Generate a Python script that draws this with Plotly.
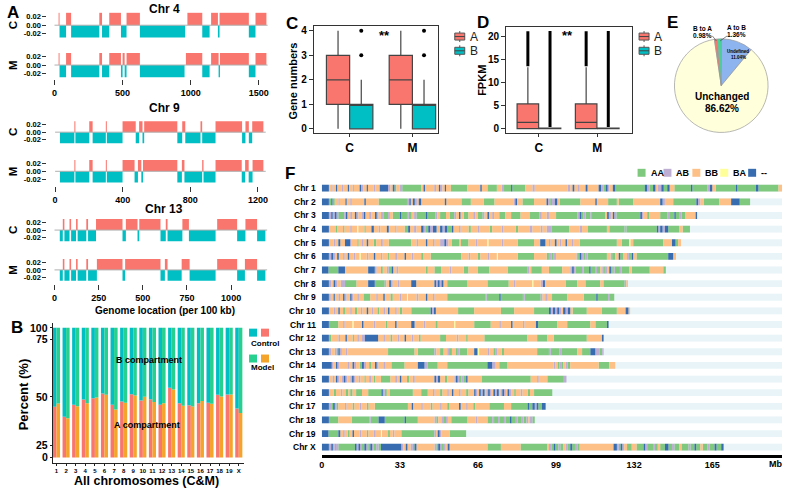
import plotly.graph_objects as go

W, H = 789, 490
FONT = "Liberation Sans"
RED, TEAL = "#F8766D", "#00BFC4"
ORANGE, GREEN = "#F4A42A", "#27D08E"

# ---------------- Panel A : compartment tracks (run-length: code + end bin) ----------------
A_chroms = ["Chr 4", "Chr 9", "Chr 13"]
A_nbins = [1565, 1246, 1204]
A_xticks = [[0, 500, 1000, 1500], [0, 400, 800, 1200], [0, 250, 500, 750, 1000]]
A_yticks = [-0.02, 0.0, 0.02]
A_yticktext = ["-0.02", "0.00", "0.02"]
A_amp = 0.029
chr4_C = "G30 R37 T85 R122 T329 R349 T402 R488 T529 R627 T959 G976 R1085 T1139 G1150 R1200 T1212 R1427 T1476 R1556 G1565"
chr4_M = "G30 R37 T85 R122 T329 R349 T402 R488 T500 R515 T529 R627 T955 G965 R1085 T1139 G1150 R1205 T1215 R1427 T1476 R1556 G1565"
chr9_C = "G29 T114 R120 T202 R222 T300 R306 T399 R477 T497 R517 T527 R723 T752 R770 T860 R870 T949 R1106 T1126 R1146 T1166 R1232 G1246"
chr9_M = "G29 T114 R120 T202 R222 T300 R306 T399 R470 T490 R510 T520 R723 T750 R765 T870 R878 T949 R1104 T1124 R1145 T1168 R1232 G1246"
chr13_C = "G30 T47 R56 T85 R94 T122 R131 T180 R190 T235 R385 T404 R470 T480 R600 T630 R640 T724 R761 T912 G921 R1034 T1081 R1147 T1194 G1204"
chr13_M = "G30 T47 R56 T85 R94 T122 R131 T180 R190 T240 R385 T400 R600 T625 R640 T720 R765 T912 G921 R1034 T1078 R1147 T1194 G1204"
A_tracks_C = [chr4_C, chr9_C, chr13_C]
A_tracks_M = [chr4_M, chr9_M, chr13_M]

# ---------------- Panel B : A-compartment percent per chromosome ----------------
B_chroms = [str(i) for i in range(1, 20)] + ["X"]
B_A_control = [44.9, 39.7, 45.9, 48.6, 49.3, 51.4, 45.9, 47.6, 51.1, 48.1,
               48.8, 45.9, 54.0, 46.7, 45.7, 46.7, 46.9, 50.9, 51.0, 44.0]
B_A_model = [46.6, 39.0, 45.2, 46.7, 49.7, 50.9, 43.5, 46.9, 50.6, 50.0,
             47.4, 46.7, 53.2, 45.4, 45.0, 47.8, 46.4, 50.1, 51.0, 41.6]
B_ticks = [0, 25, 50, 75, 100]
B_tick_pos = [0, 9.4, 46.7, 91.1, 100]   # broken-axis scale positions

# ---------------- Panel C : gene numbers ----------------
C_groups = ["C", "M"]
C_A = dict(q1=1, med=2, q3=3, lo=0, hi=4)
C_B = dict(q1=0, med=1, q3=1, lo=0, hi=2)
C_B_outliers = [3, 4]

# ---------------- Panel D : FPKM ----------------
D_groups = ["C", "M"]
D_A = dict(q1=0.05, med=1.37, q3=5.4, lo=0, hi=13.4)
D_B = dict(q1=0.0, med=0.02, q3=0.12, lo=0, hi=0.3)
D_A_outlier_range = [13.6, 21.2]
D_B_outlier_range = [0.4, 21.3]

# ---------------- Panel E : pie ----------------
E_labels = ["Undefined", "Unchanged", "B to A", "A to B"]
E_values = [11.04, 86.62, 0.98, 1.36]
E_colors = ["#8DB4EF", "#FFFFDC", "#F8766D", "#3ED99A"]

# ---------------- Panel F : compartment switch maps (code + end Mb) ----------------
F_names = ["Chr %d" % i for i in range(1, 20)] + ["Chr X"]
F_axis_max = 194.5
F_xticks = [0, 33, 66, 99, 132, 165]
F_codes = ["A", "P", "B", "Y", "D"]
F_code_labels = ["AA", "AB", "BB", "BA", "--"]
F_code_colors = ["#7FC97F", "#BEAED4", "#FDC086", "#FFFF99", "#386CB0"]
F_chr1 = "D3 B4 P4.6 B6 D6.5 B8.5 P9 B11 D11.5 B13 P13.6 B16 D16.6 P17.5 B19 D19.5 B22 P22.6 B24.5 D28 P29 B30 D30.7 A31.5 B33 P34 A42 B43 D43.6 B47.5 P48.3 B49.5 D50 P51 B52 D52.5 B54.5 A61.5 B67 D67.6 B70 A74 B76 P77 A80 D80.5 A86 B89 P90 B104 P105 B106 D106.7 B108 P109 B111.5 D112.3 B117 D118 P119 A120 D120.8 P121.5 B123 D124 A136.5 D137.5 P138.5 A140 D141 B142 P143.5 D144.5 A146 D147 B149 A156 D156.6 A163 P164 D165 B166.5 A175 D175.6 A183.5 D184.5 A193 B195.5"
F_chr2 = "D3 A4 D4.5 A5.5 B7 P7.6 B10 D10.5 B12 P12.7 B18 D18.6 B24 A36 P37 D37.6 B38.5 D39.3 P40.2 B41 D42 B52 D52.6 B59 A63 B68.5 A73 B81 P81.8 D82.5 B84.8 A89.7 B95 D95.6 P96.5 A97.3 P98.5 D99.5 B100.5 A109.3 B115.6 D116.2 B121 A124.7 B125.5 A131.7 B143 D144 P145 B148.5 A158.3 D159 P160 B161.5 A168 B173 D176.6 A181"
F_chr3 = "D3 P4 D4.6 P5.5 D6.2 P7 A9.5 P10.2 D10.8 B12 P12.8 B14 D14.6 P15.5 B17 P17.8 D18.4 B20 P21 B22.5 D23.2 P24 B25 P26 A28 P28.8 B30 A33 D33.6 A36 P36.8 A38 B39 P40 A44 D44.6 A48 P48.8 B50 A52.5 B54 A56 P56.8 B58 D58.6 B60 A62 B64 P64.8 B66 A68 P68.8 B70 D70.7 B72 P72.8 B75 A77.5 B80 A84 B88 A92 P93 B95 P96 B99 A108 P109 D109.7 A110.5 P111.5 A113.5 P114.2 A119.8 B120.6 D121.3 P122.2 B123 D123.6 P124.5 A134.6 D135.3 P136 B137.5 A138.5 B143 A146 P146.8 A149 D149.6 A151 P152 A153.5 B158 D158.6"
F_chr4 = "D3 B6 A6.6 B9 A9.6 B12 P12.7 B15 Y15.4 B18 A18.6 B21 D22 B24 P24.7 B27.5 D28.3 B31 P31.6 B35 A36.5 D37.3 B39 P40 B42 D43 P44 A45 D45.8 P47 D48.5 B50 D51 P52 D53 A55 D55.6 B58 P58.7 B62 A63 B66 P66.7 B71 A72 B76 P76.8 B82 A83 B88 P89 B92.5 P93.3 B95 P97 A104.5 B109 P110 B112.5 A120.5 B121.5 A128 P128.7 A141.6 D142.2 P143 D144 P145 D146.4 A151 B152.5 A155.6"
F_chr5 = "D3 B5 P5.6 B7 D7.8 B9.8 D12 P12.6 B15 A15.6 B17 P17.7 B19 D19.6 B22 A23 B25 P25.8 B28.3 A37.8 B40 P40.7 B44 D44.6 B47 P47.7 B50 P51.8 D52.5 P53.5 B55 A58 B58.8 A62 B65 P65.8 B70 Y70.4 B76 P76.7 B82.8 A89.7 B92.3 D94.5 B96 P96.7 B98.5 D99.2 B100.5 P101.2 B103 D103.6 B105.5 P106.2 B109 A124.7 B126.8 A130 Y130.4 B131.6 A144.3 B148 D149.5 A150.6 B151.8"
F_chr6 = "D3 P4 D4.8 P5.6 B6.5 D7.2 B9 P9.7 B11 D11.6 B13.5 P14.2 B16 Y16.4 B19 P19.7 B22 D22.6 B25 P25.6 B28 A28.6 B31 P31.8 B35 D35.6 B38 P38.6 B42 A43 B46 A59 B62 P62.7 B66 A67 B70 P70.8 B74 Y74.4 B82.8 A89.7 B95 A96 P97 A98 P99 B107.6 P108.3 A109 D109.7 P110.5 A111.5 P112.3 A120.5 B122 P122.7 A124 B125.5 D126.1 A127.5 B129 P129.8 A131 D131.6 B133 A146.4 D148.5 B149.7"
F_chr7 = "D2.8 A7 D9.8 B19.6 D22.4 P23.2 B25 A25.8 B27.5 P28.3 A29.5 D30.2 B31.5 P32.3 B44 A44.8 B47.6 A50.4 B54 P54.7 B60 A62 B66 A70.8 B78.5 A87 P87.8 B88.5 A93 B96 A101.6 B105 P105.8 D106.5 P107.3 A110 P110.7 A113 D113.6 A115.5 P116.3 A117.7 B118.5 P119.3 A120 P120.8 B121.5 D122.2 A123 P123.8 A126 P126.8 A130 B131 A138.6 B144.3 A145.4"
F_chr8 = "D3 P4 B5 D5.7 P6.5 B8 P9.8 A14.7 B19.6 D22.4 A26.6 P27.3 B28.5 D29.2 P30 B32 P32.7 B37.8 D39.9 B47.6 D48.3 P49 D49.8 P50.6 D51.4 B53 A61.6 B70 A79 B81 P81.7 B89 Y89.4 B92.5 P93.5 D94.3 B103 A108 B111.4 A117.7 B119 A128 P128.7 B129.4"
F_chr9 = "D3 P3.8 B5 D5.5 B7 P7.7 B9 D9.6 P10.5 B12 D12.6 P13.4 B15 P15.7 B17.6 A20.5 B23 P23.7 B26 D26.6 B29 A30 B33 P33.7 B36 Y36.4 B40 P40.8 B44 D44.6 B47 P47.7 B53 A69 P69.7 A75 D75.6 A85 P85.8 A92.5 P93.3 B94.4 P95.5 B97.3 A103.7 B110.7 A116 D116.6 A121 P121.8 A123.6"
F_chr10 = "D3 B5 P5.6 B7 D7.6 B9 A9.8 B12 P12.7 B14 A15 B16.5 P17.2 B19 D19.6 B21 P21.7 B23.5 A24.3 B26 P26.8 B28 D28.6 B31 P31.7 B33 A34 B37.8 A46 D46.6 P47.4 D48.2 B57.6 A64.4 B75.7 A81.3 B89.7 A96 D96.8 P97.7 D98.6 P99.5 D100.3 P101.2 B102 D103 P104 D105 B106 A112 B118.4 A124.7 B128.4 D129.6 B130.3"
F_chr11 = "D3 A7 B9 P9.7 B13 Y13.4 B17 D17.6 B22 P22.7 B27 A27.8 B31 D31.6 B37.8 D39.2 B43 P43.7 B48 A49 B56 Y56.4 B64.4 A71.4 B75 P75.7 B80 D80.6 B85 P85.7 B90.5 D91.4 A99.5 B103.7 A113.5 B115.6 A120.5 D121.2"
F_chr12 = "D3 A4 B7 P7.7 B10 D10.6 B13 A13.6 B15 P15.7 B17 P18.2 D23.8 B26 P26.7 B29 A29.8 B32 P32.7 B35 D35.6 B38 P38.6 B41 A41.8 B50 A52.5 B57 P57.7 B61 A61.7 B68.7 A86.9 B91 A95.3 B98 A112 B118.4 D119.1"
F_chr13 = "D3 P4 B5.5 P6.3 A7 D7.6 P8.5 B10 P10.8 B28 A39.2 B40.6 A47.6 P48.4 B50 A51.5 B53 P53.8 A55 B56.5 A57.5 P58.3 A61.5 B64.4 D65.8 Y66.5 B70 P70.8 B72.5 A73.5 P74.3 B76 A77 B91 A96 P96.8 A100.5 P101.2 A108 B110 A113.5 D115.6 P117.5 A118.5 P119.1"
F_chr14 = "D4.2 P5 B6 D6.6 P7.5 B10.8 P11.5 B13 D13.6 P14.5 B16 A17 D17.8 P18.7 B20 A20.8 B22.5 D23.2 P24 B26 P27 B29.4 A35 B40.6 D43.4 P44.8 A49 B53 A70 D72 P73.5 B75 A78.5 B98 P98.8 B99.6 A100.4 P101.2 A102 B103 P103.8 A105 B117 A121.5 B124"
F_chr15 = "D3 B4.5 P5.2 B6 D6.6 P7.4 B8.5 P9.3 D10 P10.8 B12 P12.8 D13.5 P14.3 B15.5 P16.3 B18 A18.6 B20 P20.8 B22 A22.6 B25 A29 B31 P31.8 B33 D33.6 B36 A37 B38.5 P39.3 B47.6 D48.3 P49.1 D50 B52 A53 B56 P56.7 D57.4 P58 A59 P59.8 A61 D61.6 B67.5 A88.3 B91 P91.7 B95.3 A102.3 P103.4"
F_chr16 = "D3 B5 A6 B8 P8.7 B10 A11.2 B12 A13 B14.5 A17 B19.6 A25.2 D25.8 P26.6 A27.5 B28.6 A38.5 B42 A44.8 B47 P47.7 B50 A51 B53 P53.7 B55 D55.6 B58 P58.7 B61 A62 B64.4 D65 P65.8 B66.5 D67.2 P68 D68.8 B69.5 P70.3 D71 P71.8 B72.5 D73.2 P74 D74.8 B75.5 P76.3 D77 P77.8 B78.5 D79.2 P80 B81.3 A82 B84 P84.8 B87 A88 B89.7 A97.4"
F_chr17 = "D3 P4 A4.8 D5.5 P6.2 A7 B9.8 P10.5 B13 A13.8 B16 P16.7 B19 A19.8 B22.4 A36.4 B38 D38.6 B42 P42.7 B46 A46.8 B50 P50.7 B53 A54 B58 D58.7 B61 P61.7 B64 A64.8 B70.8 A77 B80 A87 D87.7 A89 D90 P90.8 D91.5 A93 D94.6"
F_chr18 = "D3 A7 B12.6 A20 P20.7 A24 D26.6 A35 D35.6 A40.6 B47.6 P48.4 A49.2 B50.5 P51.3 A52.5 P53.3 B54.7 A61.6 B65 P65.8 B70 A72 P72.8 A74.5 P75.3 A77 P77.8 A79.5 D80.2 A82 P82.8 A84.5 P85.3 A86.5 P87.3 B88 P89 A90"
F_chr19 = "D2.8 A7 D7.8 B9 P9.7 B11 A11.8 B13 D13.6 B16 P16.7 B19 A19.7 B22 P22.8 B25 Y25.4 B28 A28.8 B30 P30.7 B33.6 A47.6 P48.3 B49 D49.8 P50.5 B54 A61"
F_chrX = "D3 P4 D4.7 P5.5 A6 P7 A14 D14.7 P15.5 D16.2 P17 A18 D18.8 P19.6 A20.5 D21.3 P22 A23 P24 A25 D33.6 P34.5 B35.5 D36.2 B37.5 P38.5 A39.2 D40 B47.6 P48.4 A49.2 D50 P50.8 A51.6 P52.4 B53.2 D54 B70 A75.7 B84 A95.3 B96 P97 A98 D98.7 A100 P100.8 A102 B103 P104 A105 D105.8 A107 P108 A109 B123.3 D124.7 P125.5 A126.3 D127 P127.8 B129 A131 B133 A136 D136.7 P137.5 A140 P140.8 A142 B143 A145 D146.5 A148 P149 A151 B152 A155 P155.8 A157.5 D158.2 A160 B161 A163 P163.8 A166 D166.8 A168.8 D169.8"
F_rows = [F_chr1, F_chr2, F_chr3, F_chr4, F_chr5, F_chr6, F_chr7, F_chr8, F_chr9, F_chr10,
          F_chr11, F_chr12, F_chr13, F_chr14, F_chr15, F_chr16, F_chr17, F_chr18, F_chr19, F_chrX]


# ====================== helpers ======================
def parse_runs(s):
    out, start = [], 0.0
    for tok in s.split():
        end = float(tok[1:])
        out.append((tok[0], start, end))
        start = end
    return out


def bfont(size, bold=True, color="black"):
    return dict(family=FONT, size=size, color=color, weight="bold" if bold else "normal")


fig = go.Figure()
L = dict(width=W, height=H, autosize=False, margin=dict(l=0, r=0, t=0, b=0),
         paper_bgcolor="white", plot_bgcolor="white", showlegend=False,
         barmode="overlay", boxmode="overlay")
annotations, shapes = [], []
counter = [0]


def add_axes(xpx, ypx, xr, yr, xkw=None, ykw=None):
    counter[0] += 1
    i = counter[0]
    s = "" if i == 1 else str(i)
    base = dict(showgrid=False, zeroline=False, showline=False, ticks="", showticklabels=False, fixedrange=True)
    xa = dict(base, domain=[xpx[0] / W, xpx[1] / W], range=xr, anchor="y" + s)
    ya = dict(base, domain=[1 - ypx[1] / H, 1 - ypx[0] / H], range=yr, anchor="x" + s)
    xa.update(xkw or {})
    ya.update(ykw or {})
    L["xaxis" + s] = xa
    L["yaxis" + s] = ya
    return "x" + s, "y" + s


def ann(x, y, text, size, bold=True, angle=0, xanchor="center", color="black"):
    annotations.append(dict(x=x / W, y=1 - y / H, xref="paper", yref="paper", text=text,
                            showarrow=False, textangle=angle, xanchor=xanchor, yanchor="middle",
                            font=bfont(size, bold, color)))


def rect(x0, y0, x1, y1, fill, line="rgba(0,0,0,0)", lw=0):
    shapes.append(dict(type="rect", xref="paper", yref="paper", x0=x0 / W, x1=x1 / W,
                       y0=1 - y1 / H, y1=1 - y0 / H, fillcolor=fill, line=dict(color=line, width=lw)))


def seg(x0, y0, x1, y1, color="black", lw=1):
    shapes.append(dict(type="line", xref="paper", yref="paper", x0=x0 / W, x1=x1 / W,
                       y0=1 - y0 / H, y1=1 - y1 / H, line=dict(color=color, width=lw)))


# ====================== Panel A ======================
A_geo = [dict(x0=51.7, s=0.1367, z=(24.3, 64.3), k=(8.6, 8.4), tick=78.5, title=8),
         dict(x0=52.3, s=0.1697, z=(131.7, 171.0), k=(7.6, 7.8), tick=186.0, title=107),
         dict(x0=51.7, s=0.1773, z=(230.0, 270.0), k=(7.7, 7.6), tick=284.0, title=209)]
for ci, g in enumerate(A_geo):
    xr = [(44.5 - g["x0"]) / g["s"], (269 - g["x0"]) / g["s"]]
    for ti, track in enumerate([A_tracks_C[ci], A_tracks_M[ci]]):
        z, k = g["z"][ti], g["k"][ti]
        yr = [-13 / k * 0.02, 13 / k * 0.02]
        xkw = {}
        if ti == 1:
            xkw = dict(anchor="free", position=1 - g["tick"] / H, ticks="outside", ticklen=5,
                       tickcolor="#333", tickwidth=1, showticklabels=True, tickmode="array",
                       tickvals=A_xticks[ci], ticktext=[str(v) for v in A_xticks[ci]], tickfont=bfont(9))
        ykw = dict(ticks="outside", ticklen=4, tickcolor="#333", tickwidth=1, showticklabels=True,
                   tickmode="array", tickvals=A_yticks, ticktext=A_yticktext, tickfont=bfont(7.5))
        xa, ya = add_axes((44.5, 269), (z - 13, z + 13), xr, yr, xkw, ykw)
        runs = parse_runs(track)
        for code, color, sign in (("R", RED, 1), ("T", TEAL, -1)):
            sel = [(a, b) for c, a, b in runs if c == code]
            fig.add_trace(go.Bar(x=[(a + b) / 2 for a, b in sel], y=[sign * A_amp] * len(sel),
                                 width=[b - a for a, b in sel], marker=dict(color=color, line=dict(width=0)),
                                 xaxis=xa, yaxis=ya, hoverinfo="skip"))
        fig.add_trace(go.Scatter(x=[0, A_nbins[ci]], y=[0, 0], mode="lines",
                                 line=dict(color="#B0B0B0", width=1), xaxis=xa, yaxis=ya, hoverinfo="skip"))
        ann(10, z, "C" if ti == 0 else "M", 11.5, angle=-90)
    ann(162, g["title"], A_chroms[ci], 12)
ann(163, 311, "Genome location (per 100 kb)", 10)

# ====================== Panel B ======================
def b_scale(v):
    # piecewise-linear broken axis
    for j in range(len(B_ticks) - 1):
        if v <= B_ticks[j + 1]:
            t = (v - B_ticks[j]) / (B_ticks[j + 1] - B_ticks[j])
            return B_tick_pos[j] + t * (B_tick_pos[j + 1] - B_tick_pos[j])
    return B_tick_pos[-1]


pos = list(range(1, len(B_chroms) + 1))
B_yr = [-4.4, 103.9]
B_ypx = (323, 464)
xa, ya = add_axes((50, 242), B_ypx, [0.616, 20.55], B_yr,
                  dict(showline=True, linecolor="#222", linewidth=1, ticks="outside", ticklen=2,
                       tickcolor="#222", showticklabels=True, tickmode="array", tickvals=pos,
                       ticktext=B_chroms, tickfont=bfont(6)),
                  dict(showline=True, linecolor="#222", linewidth=1, ticks="outside", ticklen=2,
                       tickcolor="#222", showticklabels=False, tickmode="array", tickvals=B_tick_pos))
for tv, tt in zip(B_tick_pos, B_ticks):
    ypix = B_ypx[1] - (tv - B_yr[0]) / (B_yr[1] - B_yr[0]) * (B_ypx[1] - B_ypx[0])
    ann(47, ypix, str(tt), 10.5, xanchor="right")
bw = 0.37
for vals, c_low, c_high, off in ((B_A_control, RED, TEAL, -bw), (B_A_model, ORANGE, GREEN, 0.0)):
    d = [b_scale(v) for v in vals]
    fig.add_trace(go.Bar(x=pos, y=d, base=[0] * len(d), width=bw, offset=off,
                         marker=dict(color=c_low, line=dict(width=0)), xaxis=xa, yaxis=ya, hoverinfo="skip"))
    fig.add_trace(go.Bar(x=pos, y=[100 - v for v in d], base=d, width=bw, offset=off,
                         marker=dict(color=c_high, line=dict(width=0)), xaxis=xa, yaxis=ya, hoverinfo="skip"))
ann(147, 360, "B compartment", 9)
ann(145, 426, "A compartment", 9)
ann(20, 395, "Percent (%)", 13, angle=-90)
ann(144, 482, "All chromosomes (C&M)", 12.5)
rect(247, 329, 255, 337, TEAL)
rect(259, 329, 267, 337, RED)
ann(247, 344, "Control", 8, xanchor="left")
rect(247, 355, 255, 363, GREEN)
rect(259, 355, 267, 363, ORANGE)
ann(247, 368, "Model", 8, xanchor="left")

# ====================== Panel C ======================
xa, ya = add_axes((312, 437), (25, 133), [-0.571, 1.413], [-0.19, 4.2],
                  dict(showline=True, mirror=True, linecolor="#333", linewidth=1, ticks="outside",
                       ticklen=3, tickcolor="#333", showticklabels=True, tickmode="array",
                       tickvals=[0, 1], ticktext=C_groups, tickfont=bfont(12)),
                  dict(showline=True, mirror=True, linecolor="#333", linewidth=1, ticks="outside",
                       ticklen=4, tickcolor="#333", showticklabels=True, tickmode="array",
                       tickvals=[0, 1, 2, 3, 4], tickfont=bfont(10)))
for st, col, off in ((C_A, RED, -0.185), (C_B, TEAL, 0.185)):
    fig.add_trace(go.Box(x=[i + off for i in range(len(C_groups))], q1=[st["q1"]] * 2, median=[st["med"]] * 2,
                         q3=[st["q3"]] * 2, lowerfence=[st["lo"]] * 2, upperfence=[st["hi"]] * 2,
                         width=0.37, whiskerwidth=0, fillcolor=col, line=dict(color="#444", width=1.2),
                         boxpoints=False, xaxis=xa, yaxis=ya, hoverinfo="skip"))
for i in range(len(C_groups)):
    fig.add_trace(go.Scatter(x=[i + 0.185] * len(C_B_outliers), y=C_B_outliers, mode="markers",
                             marker=dict(color="black", size=4), xaxis=xa, yaxis=ya, hoverinfo="skip"))
ann(383, 35, "**", 13)
ann(291, 80, "Gene numbers", 11, angle=-90)

# ====================== Panel D ======================
xa, ya = add_axes((505, 631), (26, 133), [-0.564, 1.59], [-1.02, 22.17],
                  dict(showline=True, mirror=True, linecolor="#333", linewidth=1, ticks="outside",
                       ticklen=3, tickcolor="#333", showticklabels=True, tickmode="array",
                       tickvals=[0, 1], ticktext=D_groups, tickfont=bfont(12)),
                  dict(showline=True, mirror=True, linecolor="#333", linewidth=1, ticks="outside",
                       ticklen=4, tickcolor="#333", showticklabels=True, tickmode="array",
                       tickvals=[0, 5, 10, 15, 20], tickfont=bfont(10)))
for st, col, off, orng in ((D_A, RED, -0.19, D_A_outlier_range), (D_B, TEAL, 0.19, D_B_outlier_range)):
    fig.add_trace(go.Box(x=[i + off for i in range(len(D_groups))], q1=[st["q1"]] * 2, median=[st["med"]] * 2,
                         q3=[st["q3"]] * 2, lowerfence=[st["lo"]] * 2, upperfence=[st["hi"]] * 2,
                         width=0.37, whiskerwidth=0, fillcolor=col, line=dict(color="#444", width=1.2),
                         boxpoints=False, xaxis=xa, yaxis=ya, hoverinfo="skip"))
    for i in range(len(D_groups)):
        fig.add_trace(go.Scatter(x=[i + off, i + off], y=orng, mode="lines",
                                 line=dict(color="black", width=3), xaxis=xa, yaxis=ya, hoverinfo="skip"))
ann(567, 35, "**", 13)
ann(481, 80, "FPKM", 11, angle=-90)

# legends for C and D
for lx in (453.5, 638.5):
    for ly, col, lab in ((35.7, RED, "A"), (50, TEAL, "B")):
        seg(lx + 5, ly - 5.5, lx + 5, ly + 5.5, "#555", 1)
        rect(lx, ly - 3.5, lx + 10, ly + 3.5, col, "#555", 1)
        seg(lx, ly, lx + 10, ly, "#444", 1)
        ann(lx + 13, ly, lab, 12, bold=False, xanchor="left", color="#222")

# ====================== Panel E ======================
fig.add_trace(go.Pie(values=E_values, labels=E_labels, sort=False, direction="clockwise", rotation=0,
                     textinfo="none", hoverinfo="skip",
                     marker=dict(colors=E_colors, line=dict(color="#9A9A9A", width=0.7)),
                     domain=dict(x=[674 / W, 768 / W], y=[1 - 132 / H, 1 - 38 / H])))
ann(702, 27.5, "B to A", 6.5)
ann(702, 34.5, "0.98%", 6.5)
ann(736, 27, "A to B", 6.5)
ann(736, 34, "1.36%", 6.5)
seg(712, 35, 716, 40, "#333", 0.6)
seg(727, 35, 720, 40, "#333", 0.6)
ann(738, 51, "Undefined", 4.5)
ann(738, 56.5, "11.04%", 4.5)
ann(722, 96, "Unchanged", 10)
ann(722, 107.5, "86.62%", 10)

# ====================== Panel F ======================
nrows = len(F_names)
xa, ya = add_axes((320, 782), (181, 455), [0, F_axis_max], [nrows - 1 + 0.51, -0.51],
                  dict(anchor="free", position=1 - 457 / H, showline=True, linecolor="black", linewidth=2.5,
                       showticklabels=True, tickmode="array", tickvals=F_xticks, tickfont=bfont(9)))
rows = list(range(nrows))
fig.add_trace(go.Bar(y=rows, x=[F_axis_max] * nrows, base=[0] * nrows, orientation="h", width=0.5,
                     marker=dict(color="#E8F4F7", line=dict(width=0)), xaxis=xa, yaxis=ya, hoverinfo="skip"))
parsed = [parse_runs(r) for r in F_rows]
for code, col in zip(F_codes, F_code_colors):
    ys, xs, bs = [], [], []
    for ri, runs in enumerate(parsed):
        for c, a, b in runs:
            if c == code:
                ys.append(ri); xs.append(b - a); bs.append(a)
    fig.add_trace(go.Bar(y=ys, x=xs, base=bs, orientation="h", width=0.5,
                         marker=dict(color=col, line=dict(width=0)), xaxis=xa, yaxis=ya, hoverinfo="skip"))
for ri, name in enumerate(F_names):
    ann(316, 188 + ri * 13.684, name, 8.5, xanchor="right")
ann(775, 465, "Mb", 9)
for j, (lab, col) in enumerate(zip(F_code_labels, F_code_colors)):
    x0 = [637, 663, 692, 720, 748][j]
    rect(x0, 168.5, x0 + 8, 176.5, col)
    ann(x0 + 11, 172.5, lab, 9, xanchor="left")

# ====================== panel letters ======================
for lx, ly, t in ((10, 12, "A"), (14, 328, "B"), (290, 23, "C"), (482, 22, "D"), (672, 22, "E"), (288, 173, "F")):
    ann(lx, ly, t, 17)

L["annotations"] = annotations
L["shapes"] = shapes
fig.update_layout(**L)
fig.write_html("out.html", config={"displayModeBar": False, "staticPlot": True},
               post_script="document.body.style.margin='0px';document.body.style.overflow='hidden';")
